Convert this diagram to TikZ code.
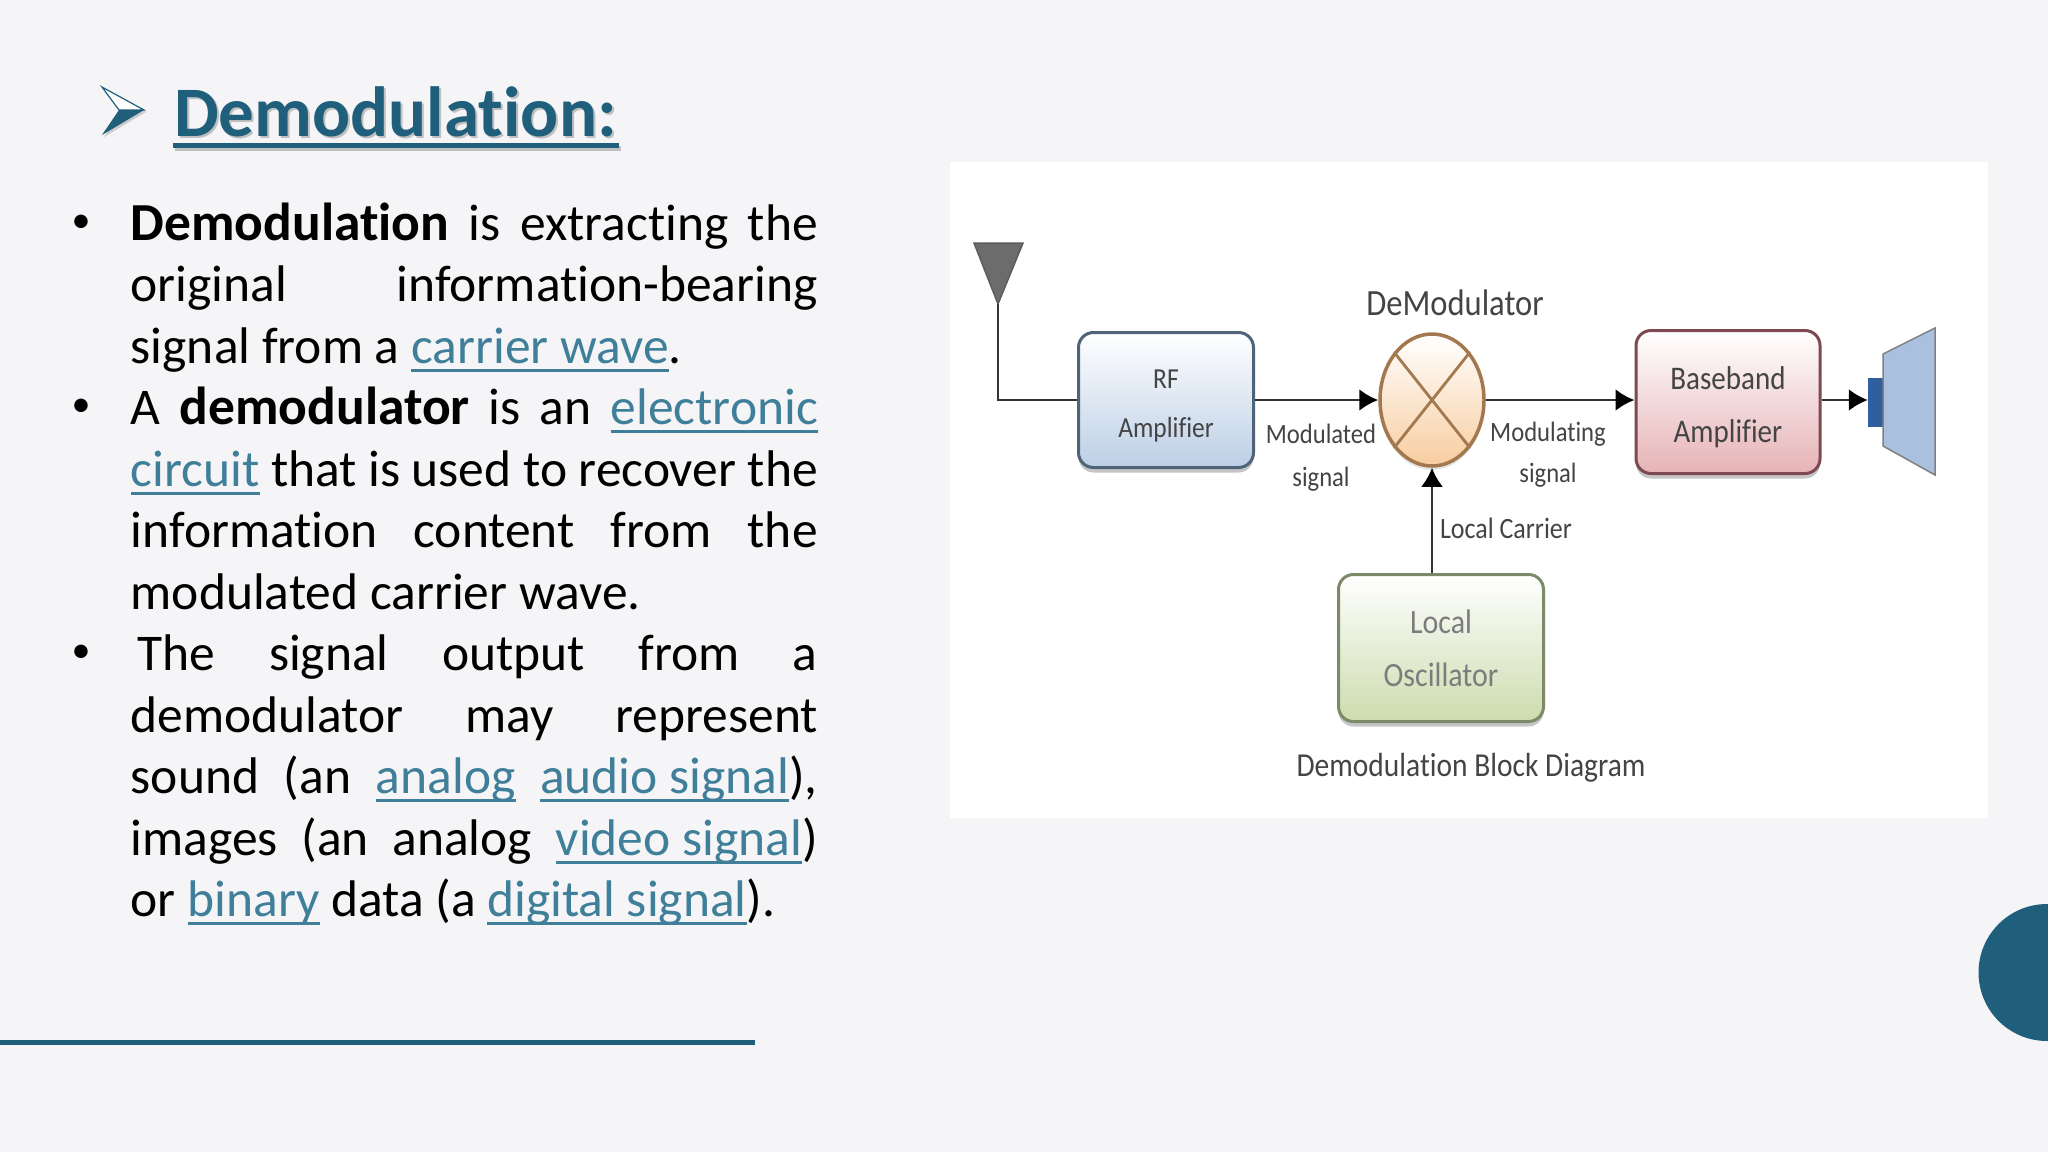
\documentclass[tikz,border=0pt]{standalone}
\usepackage{fontspec}
\setmainfont{Carlito}[Ligatures=NoCommon]
\newfontfamily\diagfont{Carlito}[Ligatures=NoCommon,FakeStretch=0.88]
\usetikzlibrary{arrows.meta,shapes.geometric,shadows,calc}
\definecolor{bgc}{HTML}{F5F5F7}
\definecolor{teal}{HTML}{1F5F7C}
\definecolor{linkc}{HTML}{3F7F99}
\definecolor{wire}{HTML}{333333}
\definecolor{lbl}{HTML}{444444}
\definecolor{rfedge}{HTML}{4F6478}
\definecolor{rffill}{HTML}{BCCFE6}
\definecolor{bbedge}{HTML}{7C4A50}
\definecolor{bbfill}{HTML}{E6B3B6}
\definecolor{osedge}{HTML}{7C8A6A}
\definecolor{osfill}{HTML}{CDDCAE}
\definecolor{mxedge}{HTML}{A3784F}
\definecolor{mxfill}{HTML}{F8CDA0}
\definecolor{conefill}{HTML}{A9C0DE}
\definecolor{spkfill}{HTML}{2F5F9F}
\newlength{\linew}\setlength{\linew}{687pt}
\newcommand{\lnk}[1]{\setbox0=\hbox{#1}\rlap{\color{linkc}\rule[-0.17em]{\wd0}{0.055em}}{\color{linkc}\box0}}
\newcommand{\jl}[1]{\hbox to \linew{#1}}
\newcommand{\bfs}[1]{{\fontsize{53.5}{60}\selectfont\bfseries #1}}
\tikzset{
  bodyline/.style={anchor=base west,inner sep=0pt,font=\fontsize{51.5}{60}\selectfont,text=black},
  bulletmark/.style={anchor=center,inner sep=0pt,font=\fontsize{38}{42}\selectfont,text=black},
  block/.style={draw=#1,line width=3pt,rounded corners=15pt,inner sep=0pt,align=center,text=lbl,
    drop shadow={opacity=.45,shadow xshift=0pt,shadow yshift=-5pt}},
  lab/.style={inner sep=0pt,align=center,text=lbl},
  wireline/.style={draw=wire,line width=2.8pt},
  arrowline/.style={wireline,-{Latex[length=19pt,width=22pt,color=black]}},
}
\begin{document}
\begin{tikzpicture}[x=1pt,y=-1pt]
\useasboundingbox (0,0) rectangle (2048,1152);
\fill[bgc] (0,0) rectangle (2048,1152);
% title arrow
\fill[gray,opacity=.35] (104,89) -- (146,112) -- (104,137) -- (120,112) -- cycle;
\filldraw[draw=teal,fill=white,line width=1.2pt] (102,87) -- (144,110) -- (119,110) -- cycle;
\fill[teal] (102,135) -- (144,110) -- (119,110) -- cycle;
% title
\node[anchor=base west,inner sep=0pt,font=\fontsize{71}{74}\selectfont\bfseries,text=gray,opacity=.45] at (176,138.5) {Demodulation:};
\node (title) [anchor=base west,inner sep=0pt,font=\fontsize{71}{74}\selectfont\bfseries,text=teal] at (174,136.5) {Demodulation:};
\fill[gray,opacity=.45] (175,146) rectangle (621,150.5);
\fill[teal] (173,143) rectangle (619,148);
% body
\node[bulletmark] (b1) at (81,224) {•};
\node[bulletmark] (b2) at (81,408) {•};
\node[bulletmark] (b3) at (81,654) {•};
\node[bodyline] (l1) at (130.6,240) {\jl{\bfs{Demodulation} is extracting the}};
\node[bodyline] (l2) at (130.6,301.5) {\jl{original information-bearing}};
\node[bodyline] (l3) at (130.6,363) {\jl{signal from a \lnk{carrier wave}.\hfil}};
\node[bodyline] (l4) at (130.6,424.5) {\jl{A \bfs{demodulator} is an \lnk{electronic}}};
\node[bodyline] (l5) at (130.6,486) {\jl{\lnk{circuit} that is used to recover the}};
\node[bodyline] (l6) at (130.6,547.5) {\jl{information content from the}};
\node[bodyline] (l7) at (130.6,609) {\jl{modulated carrier wave.\hfil}};
\node[bodyline] (l8) at (130.6,670.5) {\jl{\hspace*{7pt}The signal output from a}};
\node[bodyline] (l9) at (130.6,732) {\jl{demodulator may represent}};
\node[bodyline] (l10) at (130.6,793.5) {\jl{sound (an \lnk{analog} \lnk{audio signal}),}};
\node[bodyline] (l11) at (130.6,855) {\jl{images (an analog \lnk{video signal})}};
\node[bodyline] (l12) at (130.6,916.5) {\jl{or \lnk{binary} data (a \lnk{digital signal}).\hfil}};
% footer
\fill[teal] (0,1040) rectangle (755,1045);
\fill[teal] (2047,972.5) circle (68.5);
% panel
\fill[white] (950,162) rectangle (1988,818);
% antenna
\coordinate (anttip) at (998,304);
\filldraw[draw=wire!80,fill=gray!85!black,line width=1.5pt] (974,243) -- (1023,243) -- (anttip) -- cycle;
% blocks
\node[block=rfedge,top color=white,bottom color=rffill,minimum width=175pt,minimum height=135pt,font=\diagfont\fontsize{29}{49}\selectfont] (rf) at (1166,400) {\rule{0pt}{30pt}RF\\Amplifier};
\node[ellipse,draw=mxedge,line width=3.5pt,top color=white,bottom color=mxfill,minimum width=104pt,minimum height=132pt,inner sep=0pt,drop shadow={opacity=.2,shadow xshift=0pt,shadow yshift=-4pt}] (mix) at (1432,400) {};
\draw[draw=mxedge,line width=2.8pt] (mix.south west) -- (mix.north east) (mix.north west) -- (mix.south east);
\node[block=bbedge,top color=white,bottom color=bbfill,minimum width=184pt,minimum height=143pt,font=\diagfont\fontsize{33}{53}\selectfont] (base) at (1728,402) {\rule{0pt}{34pt}Baseband\\Amplifier};
\node[block=osedge,top color=white,bottom color=osfill,minimum width=205pt,minimum height=147pt,font=\diagfont\fontsize{34}{53}\selectfont,text=lbl!70] (osc) at (1441,648) {Local\\Oscillator};
% speaker
\node[draw=none,fill=spkfill,minimum width=15pt,minimum height=49pt,inner sep=0pt] (spk) at (1875.5,402) {};
\filldraw[draw=gray,fill=conefill,line width=1.5pt] (1883,354) -- (1935,328) -- (1935,475) -- (1883,446) -- cycle;
% labels
\node[lab,font=\diagfont\fontsize{37}{40}\selectfont] (dm) at (1455,303) {DeModulator};
\node[lab,font=\diagfont\fontsize{28}{43}\selectfont] (mod) at (1321,458) {Modulated\\signal};
\node[lab,font=\diagfont\fontsize{28}{41}\selectfont] (mog) at (1548,455) {Modulating\\signal};
\node[lab,font=\diagfont\fontsize{29.5}{32}\selectfont] (lc) at (1506,528) {Local Carrier};
\node[lab,font=\diagfont\fontsize{33.5}{36}\selectfont] (cap) at (1471,768) {Demodulation Block Diagram};
% connectors
\draw[wireline] (anttip) |- (rf.west);
\draw[arrowline] (rf.east) -- (mix.west);
\draw[arrowline] (mix.east) -- (base.west |- mix.east);
\draw[arrowline] (base.east |- mix.east) -- (spk.west |- mix.east);
\draw[arrowline] (mix.south |- osc.north) -- (mix.south);
\end{tikzpicture}
\end{document}
